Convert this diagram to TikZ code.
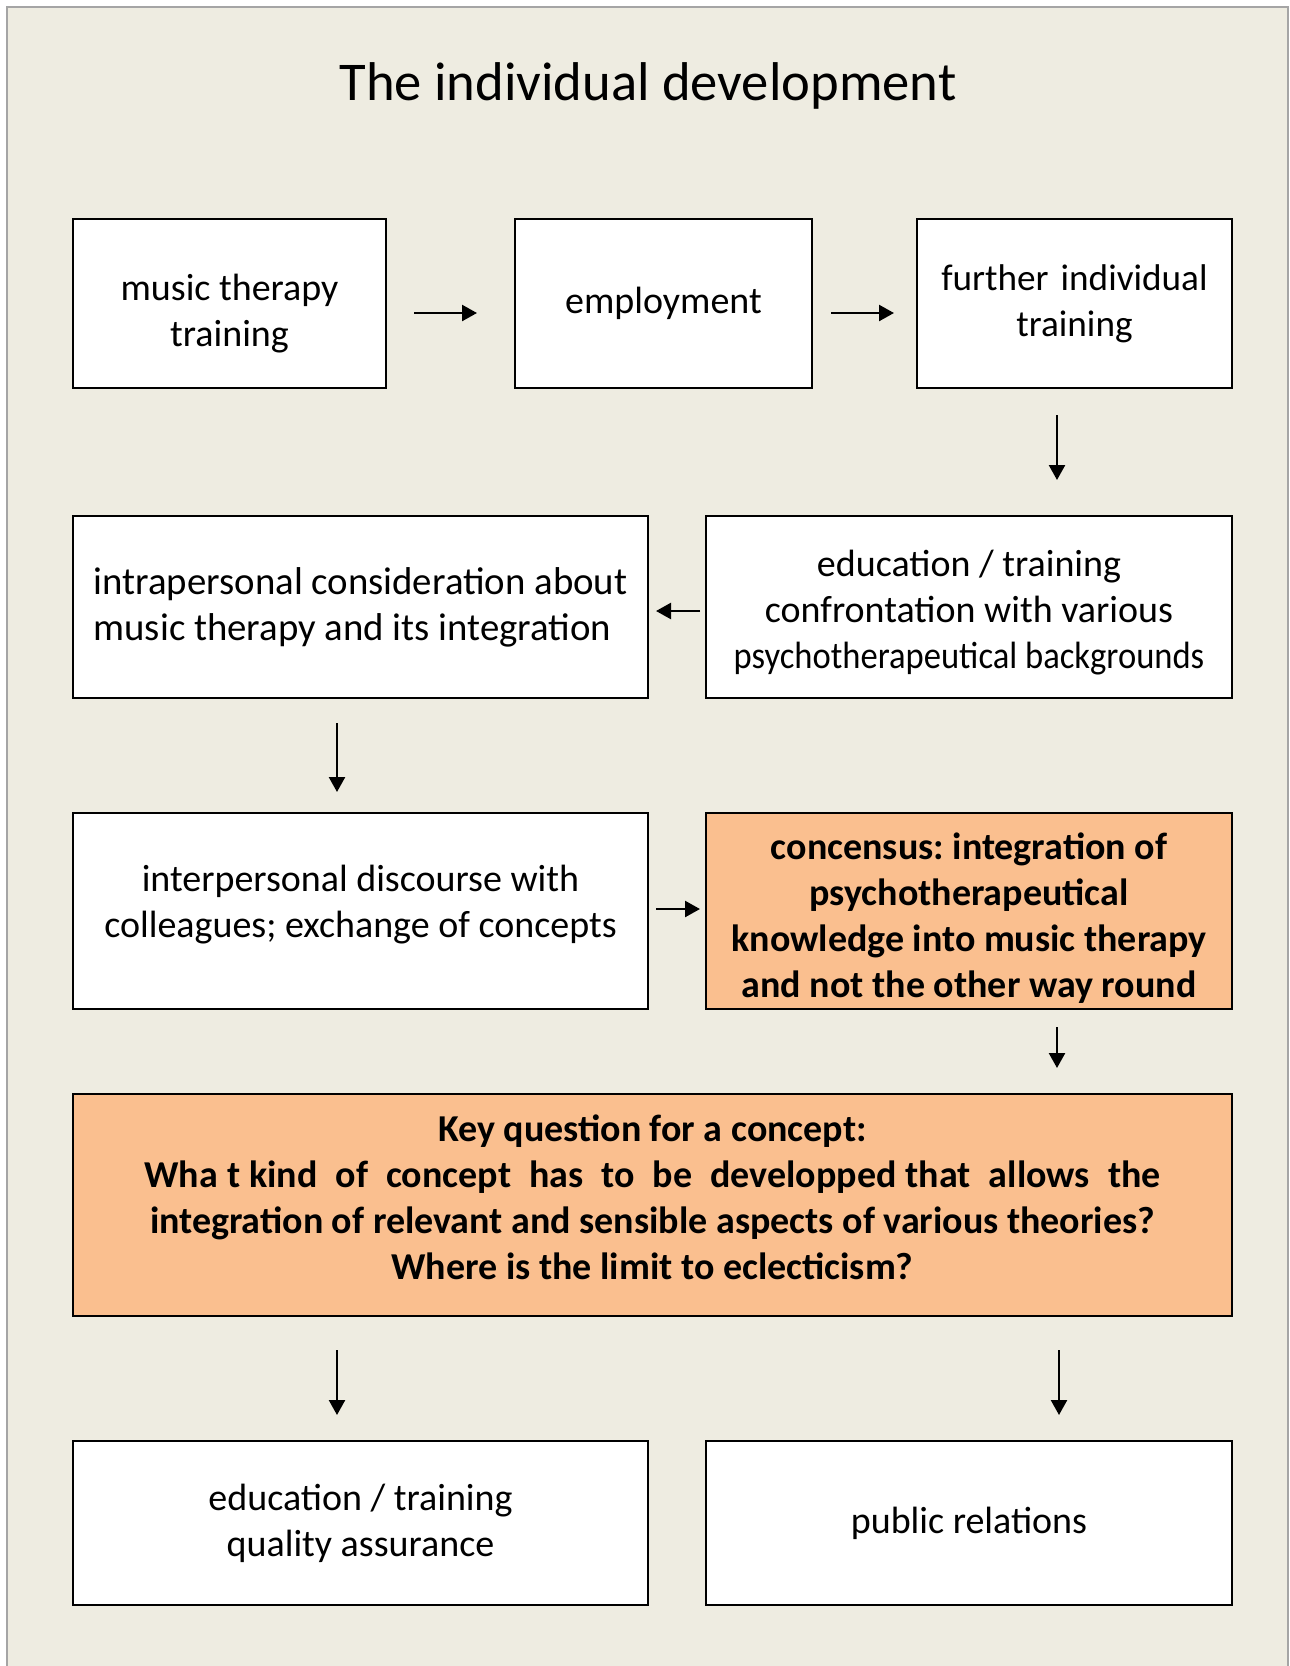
\documentclass[tikz,border=0pt]{standalone}
\usepackage{fontspec}
\setmainfont{Carlito}
\newfontfamily\tightfont{Carlito}[FakeStretch=0.91]
\usepackage{tikz}
\usetikzlibrary{arrows.meta, positioning, calc}
\definecolor{pagebeige}{RGB}{238,236,225}
\definecolor{framegray}{RGB}{165,165,165}
\definecolor{keyorange}{RGB}{250,191,143}
\frenchspacing
% struts to move box text up or down a little
\newcommand{\droptext}[1]{\rule{0pt}{#1}}
\newcommand{\lifttext}[1]{\rule[-#1]{0pt}{0pt}}

\tikzset{
  stage/.style={draw=black, line width=1pt, fill=white, align=center,
    inner sep=0pt, font=\fontsize{19}{23}\selectfont},
  keystage/.style={stage, fill=keyorange, font=\fontsize{19}{23}\selectfont\bfseries},
  flow/.style={-{Triangle[length=7.5pt,width=8pt]}, line width=1.2pt},
}

\begin{document}
\begin{tikzpicture}[x=0.5pt, y=-0.5pt]
  \useasboundingbox (0,0) rectangle (1290,1666);
  % Background
  \fill[pagebeige] (7,7) rectangle (1288,1666);
  \draw[framegray, line width=1pt] (7,1666) -- (7,7) -- (1288,7) -- (1288,1666);
  % Title
  \node[font=\fontsize{27.3}{32}\selectfont] (title) at (648,86) {The individual development};
  % Row 1
  \node[stage, minimum width=156.5pt, minimum height=84.5pt] (mtt) at (229.5,303.5) {\droptext{23pt}music therapy\\training};
  \node[stage, minimum width=148.5pt, minimum height=84.5pt] (emp) at (663.5,303.5) {employment};
  \node[stage, minimum width=157.5pt, minimum height=84.5pt, font=\fontsize{18.6}{23}\selectfont] (fit) at (1074.5,303.5) {further\hspace{6pt}individual\\training};
  % Row 2
  \node[stage, align=left, minimum width=287.5pt, minimum height=91pt, font=\fontsize{19.4}{23}\selectfont] (intra) at (360.5,607)
    {intrapersonal consideration about\\music therapy and its integration};
  \node[stage, minimum width=263pt, minimum height=91pt] (edu) at (969,607)
    {\droptext{19pt}education / training\\confrontation with various\\{\tightfont psychotherapeutical backgrounds}};
  % Row 3
  \node[stage, minimum width=287.5pt, minimum height=98pt] (disc) at (360.5,911)
    {interpersonal discourse with\\colleagues; exchange of concepts\lifttext{10pt}};
  \node[keystage, minimum width=263pt, minimum height=98pt] (cons) at (969,911)
    {\droptext{20pt}concensus: integration of\\psychotherapeutical\\knowledge into music therapy\\and not the other way round};
  % Key question
  \node[keystage, minimum width=579.5pt, minimum height=111pt] (key) at (652.5,1205)
    {Key question for a concept:\\
     \makebox[508pt][s]{Wha t kind\ \ of\ \ concept\ \ has\ \ to\ \ be\ \ developped that\ \ allows\ \ the}\\
     integration of relevant and sensible aspects of various theories?\\
     Where is the limit to eclecticism?\lifttext{8pt}};
  % Row 4
  \node[stage, minimum width=287.5pt, minimum height=82pt] (qa) at (360.5,1523)
    {education / training\\quality assurance};
  \node[stage, minimum width=263pt, minimum height=82pt] (pr) at (969,1523) {public relations};
  % Arrows
  \draw[flow, shorten <=13.5pt, shorten >=18.5pt] ([yshift=-4.75pt]mtt.east) -- ([yshift=-4.75pt]emp.west);
  \draw[flow, shorten <=9pt, shorten >=11pt] ([yshift=-4.75pt]emp.east) -- ([yshift=-4.75pt]fit.west);
  \draw[flow, shorten <=13pt, shorten >=17.5pt] ($(fit.south)+(-17.5,0)$) -- ($(fit.south |- edu.north)+(-17.5,0)$);
  \draw[flow, shorten <=2.5pt, shorten >=3.5pt] ([yshift=-2pt]edu.west) -- ([yshift=-2pt]intra.east);
  \draw[flow, shorten <=12pt, shorten >=10pt] ($(intra.south)+(-23.5,0)$) -- ($(disc.north)+(-23.5,0)$);
  \draw[flow, shorten <=3.5pt, shorten >=2.5pt] ([yshift=1pt]disc.east) -- ([yshift=1pt]cons.west);
  \draw[flow, shorten <=8.5pt, shorten >=12.5pt] ($(cons.south)+(88,0)$) -- ($(cons.south |- key.north)+(88,0)$);
  \draw[flow, shorten <=16.5pt, shorten >=12.5pt] ($(key.south -| qa.north)+(-23.5,0)$) -- ($(qa.north)+(-23.5,0)$);
  \draw[flow, shorten <=16.5pt, shorten >=12.5pt] ($(key.south -| pr.north)+(90,0)$) -- ($(pr.north)+(90,0)$);
\end{tikzpicture}
\end{document}
